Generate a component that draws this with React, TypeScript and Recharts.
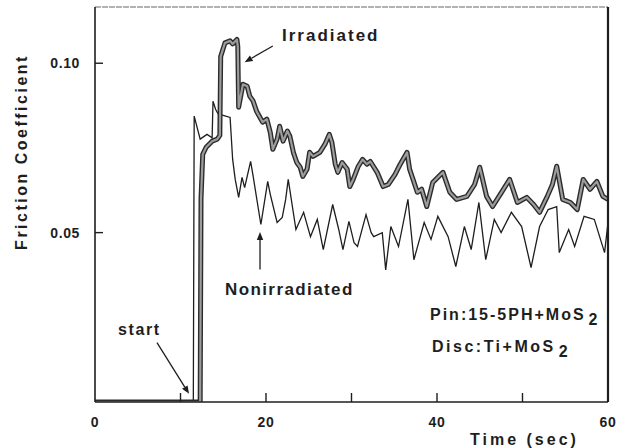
import React from 'react';
import { LineChart, Line, XAxis, YAxis, ReferenceLine } from 'recharts';

// ---- data ----
const irrTime = [0, 12.3, 12.4, 12.6, 13.0, 13.7, 14.3, 14.6, 14.7, 15.2, 15.8, 16.1, 16.6, 16.7, 16.8, 17.3, 17.8, 18.1, 18.5, 18.9, 19.3, 19.6, 20.1, 20.5, 20.8, 21.3, 21.6, 22.0, 22.5, 22.8, 23.2, 23.6, 24.0, 24.3, 24.8, 25.1, 25.5, 26.3, 26.9, 27.4, 27.7, 28.1, 28.4, 28.9, 29.5, 29.8, 30.2, 30.8, 31.3, 31.8, 32.2, 33.0, 33.7, 34.3, 35.1, 35.7, 36.5, 36.8, 37.7, 38.2, 38.8, 39.5, 40.7, 41.5, 42.3, 43.5, 44.4, 45.0, 45.8, 46.5, 47.4, 48.5, 49.4, 50.5, 51.3, 52.0, 52.9, 53.5, 54.0, 54.7, 55.6, 56.4, 57.1, 57.9, 58.7, 59.4, 60.0];
const irrValue = [0, 0, 0.060, 0.0731, 0.0752, 0.077, 0.0776, 0.0787, 0.102, 0.106, 0.1066, 0.1057, 0.107, 0.105, 0.087, 0.0938, 0.0932, 0.0903, 0.0888, 0.0858, 0.084, 0.0826, 0.0835, 0.0796, 0.0746, 0.0776, 0.0814, 0.077, 0.080, 0.0784, 0.0737, 0.0707, 0.0693, 0.0666, 0.0687, 0.0737, 0.0725, 0.0737, 0.0761, 0.079, 0.0767, 0.0702, 0.0678, 0.0707, 0.0687, 0.0636, 0.0657, 0.0696, 0.0716, 0.0702, 0.071, 0.0678, 0.0636, 0.0642, 0.0672, 0.0702, 0.0737, 0.0687, 0.0619, 0.0628, 0.0577, 0.0648, 0.0678, 0.0619, 0.0598, 0.0607, 0.0642, 0.0693, 0.0607, 0.0577, 0.0613, 0.0657, 0.0589, 0.0604, 0.0583, 0.056, 0.0607, 0.0642, 0.0696, 0.0598, 0.0589, 0.0568, 0.0657, 0.0628, 0.0651, 0.0607, 0.0598];

const nonTime = [0, 11.5, 11.6, 12.3, 13.1, 13.7, 13.8, 14.1, 14.4, 14.9, 15.8, 16.1, 16.4, 16.8, 17.2, 17.5, 18.2, 18.5, 19.4, 20.2, 20.5, 21.3, 21.9, 22.3, 22.6, 23.5, 24.4, 25.2, 26.0, 26.7, 27.8, 28.5, 29.0, 29.7, 30.3, 30.7, 31.7, 32.3, 32.6, 33.6, 34.0, 34.6, 35.5, 36.6, 37.3, 38.5, 39.3, 40.1, 41.3, 42.2, 43.2, 44.0, 44.9, 45.7, 46.7, 47.5, 48.7, 49.9, 51.0, 52.0, 53.0, 54.0, 54.3, 55.4, 56.1, 57.2, 58.4, 59.6, 60.0];
const nonValue = [0, 0, 0.0844, 0.0776, 0.079, 0.078, 0.0888, 0.0864, 0.085, 0.0847, 0.084, 0.0716, 0.0657, 0.0604, 0.0663, 0.0633, 0.071, 0.0666, 0.0524, 0.0651, 0.0613, 0.0530, 0.0545, 0.0598, 0.0657, 0.0509, 0.056, 0.0488, 0.0539, 0.045, 0.0583, 0.0510, 0.045, 0.0533, 0.0470, 0.0459, 0.0553, 0.0500, 0.0488, 0.0500, 0.039, 0.0518, 0.0459, 0.0598, 0.042, 0.053, 0.048, 0.0548, 0.0488, 0.040, 0.0518, 0.045, 0.0589, 0.042, 0.0539, 0.050, 0.056, 0.0518, 0.0397, 0.0518, 0.0568, 0.0577, 0.0441, 0.0509, 0.0459, 0.0548, 0.0539, 0.0441, 0.053];

const xTicks = [0, 10, 20, 30, 40, 50, 60];
const xTickLabels = ['0', '', '20', '', '40', '', '60'];
const xInnerTicks = [10, 20, 30, 40, 50];
const yTicks = [0.05, 0.1];
const yTickLabels = ['0.05', '0.10'];

const irrData = irrTime.map((t, i) => ({ t, v: irrValue[i] }));
const nonData = nonTime.map((t, i) => ({ t, v: nonValue[i] }));

const FONT = '"Liberation Sans", Arial, Helvetica, sans-serif';
const INK = '#1e1e1e';

// layout
const W = 621;
const H = 448;
const MARGIN = { top: 6, right: 12, bottom: 16, left: 35 };
const X_AXIS_H = 30;
const TOP_AXIS_H = 1;
const Y_AXIS_W = 60;
const RIGHT_AXIS_W = 1;
const X_DOMAIN: [number, number] = [0, 60];
const Y_DOMAIN: [number, number] = [0, 0.1166];
const PLOT_LEFT = MARGIN.left + Y_AXIS_W;
const PLOT_RIGHT = W - MARGIN.right - RIGHT_AXIS_W;
const PLOT_TOP = MARGIN.top + TOP_AXIS_H;
const PLOT_BOTTOM = H - MARGIN.bottom - X_AXIS_H;
const sx = (t: number) => PLOT_LEFT + ((t - X_DOMAIN[0]) / (X_DOMAIN[1] - X_DOMAIN[0])) * (PLOT_RIGHT - PLOT_LEFT);
const sy = (v: number) => PLOT_BOTTOM - ((v - Y_DOMAIN[0]) / (Y_DOMAIN[1] - Y_DOMAIN[0])) * (PLOT_BOTTOM - PLOT_TOP);

const YTick = (props: any) => {
  const { x, y, payload } = props;
  const idx = yTicks.indexOf(payload.value);
  return (
    <text x={x} y={y + 5} textAnchor="end" fontFamily={FONT} fontSize={14} fontWeight={600} fill={INK} letterSpacing={0.6}>
      {idx >= 0 ? yTickLabels[idx] : ''}
    </text>
  );
};

const XTick = (props: any) => {
  const { x, y, payload } = props;
  const idx = xTicks.indexOf(payload.value);
  const axisY = y - 10;
  const label = idx >= 0 ? xTickLabels[idx] : '';
  return (
    <text x={x} y={axisY + 25} textAnchor="middle" fontFamily={FONT} fontSize={14} fontWeight={600} fill={INK} letterSpacing={0.6}>
      {label}
    </text>
  );
};

const Arrow = (props: any) => {
  const { x1, y1, x2, y2 } = props;
  const ang = Math.atan2(y2 - y1, x2 - x1);
  const L = 8;
  const Wd = 3.2;
  const bx = x2 - L * Math.cos(ang);
  const by = y2 - L * Math.sin(ang);
  const px = -Math.sin(ang) * Wd;
  const py = Math.cos(ang) * Wd;
  return (
    <g>
      <line x1={x1} y1={y1} x2={bx} y2={by} stroke={INK} strokeWidth={1.3} />
      <polygon points={`${x2},${y2} ${bx + px},${by + py} ${bx - px},${by - py}`} fill={INK} />
    </g>
  );
};

const labelStyle: React.CSSProperties = {
  fontFamily: FONT,
  fontWeight: 700,
  fill: INK,
};

export default function App() {
  return (
    <div style={{ position: 'absolute', left: 0, top: 0, width: W, height: H, background: '#fff' }}>
      <LineChart width={W} height={H} data={irrData} margin={MARGIN}>
        <XAxis
          xAxisId="b"
          dataKey="t"
          type="number"
          domain={X_DOMAIN}
          ticks={xTicks}
          tickSize={0}
          tickMargin={10}
          tickLine={false}
          tick={<XTick />}
          axisLine={{ stroke: INK, strokeWidth: 1.6 }}
          height={X_AXIS_H}
          allowDataOverflow
        />
        <XAxis xAxisId="top" orientation="top" type="number" domain={X_DOMAIN} tick={false} tickLine={false} height={TOP_AXIS_H} axisLine={{ stroke: '#666', strokeWidth: 1.2, strokeDasharray: '6 1' }} />
        <YAxis
          yAxisId="l"
          type="number"
          domain={Y_DOMAIN}
          ticks={yTicks}
          tickSize={0}
          tickMargin={15}
          tickLine={false}
          tick={<YTick />}
          axisLine={{ stroke: INK, strokeWidth: 1.6 }}
          width={Y_AXIS_W}
          allowDataOverflow
        />
        <YAxis yAxisId="r" orientation="right" type="number" domain={Y_DOMAIN} tick={false} tickLine={false} width={RIGHT_AXIS_W} axisLine={{ stroke: INK, strokeWidth: 2.2 }} />
        <Line xAxisId="b" yAxisId="l" data={nonData} dataKey="v" type="linear" stroke={INK} strokeWidth={1.3} dot={false} isAnimationActive={false} />
        <Line xAxisId="b" yAxisId="l" data={irrData} dataKey="v" type="linear" stroke="#2b2b2b" strokeWidth={5} dot={false} isAnimationActive={false} strokeLinejoin="round" />
        <Line xAxisId="b" yAxisId="l" data={irrData} dataKey="v" type="linear" stroke="#9c9c9c" strokeWidth={2.2} dot={false} isAnimationActive={false} strokeLinejoin="round" />
        <ReferenceLine xAxisId="b" yAxisId="l" segment={[{ x: 20.8, y: 0.1051 }, { x: 17.5, y: 0.1003 }]} shape={<Arrow />} ifOverflow="visible" />
        <ReferenceLine xAxisId="b" yAxisId="l" segment={[{ x: 19.3, y: 0.0391 }, { x: 19.3, y: 0.0502 }]} shape={<Arrow />} ifOverflow="visible" />
        <ReferenceLine xAxisId="b" yAxisId="l" segment={[{ x: 7.25, y: 0.0175 }, { x: 11.0, y: 0.0024 }]} shape={<Arrow />} ifOverflow="visible" />
      </LineChart>
      <svg width={W} height={H} style={{ position: 'absolute', left: 0, top: 0, pointerEvents: 'none' }}>
        {xInnerTicks.map((t) => (
          <line key={'xt' + t} x1={sx(t)} x2={sx(t)} y1={PLOT_BOTTOM} y2={PLOT_BOTTOM - 9} stroke={INK} strokeWidth={1.4} />
        ))}
        {yTicks.map((v) => (
          <line key={'yt' + v} x1={PLOT_LEFT} x2={PLOT_LEFT + 8} y1={sy(v)} y2={sy(v)} stroke={INK} strokeWidth={1.4} />
        ))}
        <text transform="translate(27,152) rotate(-90)" textAnchor="middle" fontSize={16} letterSpacing={2.5} style={labelStyle}>Friction Coefficient</text>
        <text x={282} y={41} fontSize={17} letterSpacing={2} style={labelStyle}>Irradiated</text>
        <text x={225} y={295} fontSize={17} letterSpacing={1.4} style={labelStyle}>Nonirradiated</text>
        <text x={118} y={335} fontSize={16} letterSpacing={1.6} style={labelStyle}>start</text>
        <text x={430} y={320} fontSize={16} letterSpacing={2} style={labelStyle}>
          Pin:15-5PH+MoS<tspan dx={3} dy={5}>2</tspan>
        </text>
        <text x={432} y={352} fontSize={16} letterSpacing={2.5} style={labelStyle}>
          Disc:Ti+MoS<tspan dx={3} dy={5}>2</tspan>
        </text>
        <text x={470} y={445} fontSize={16} letterSpacing={3} style={labelStyle}>Time (sec)</text>
      </svg>
    </div>
  );
}
